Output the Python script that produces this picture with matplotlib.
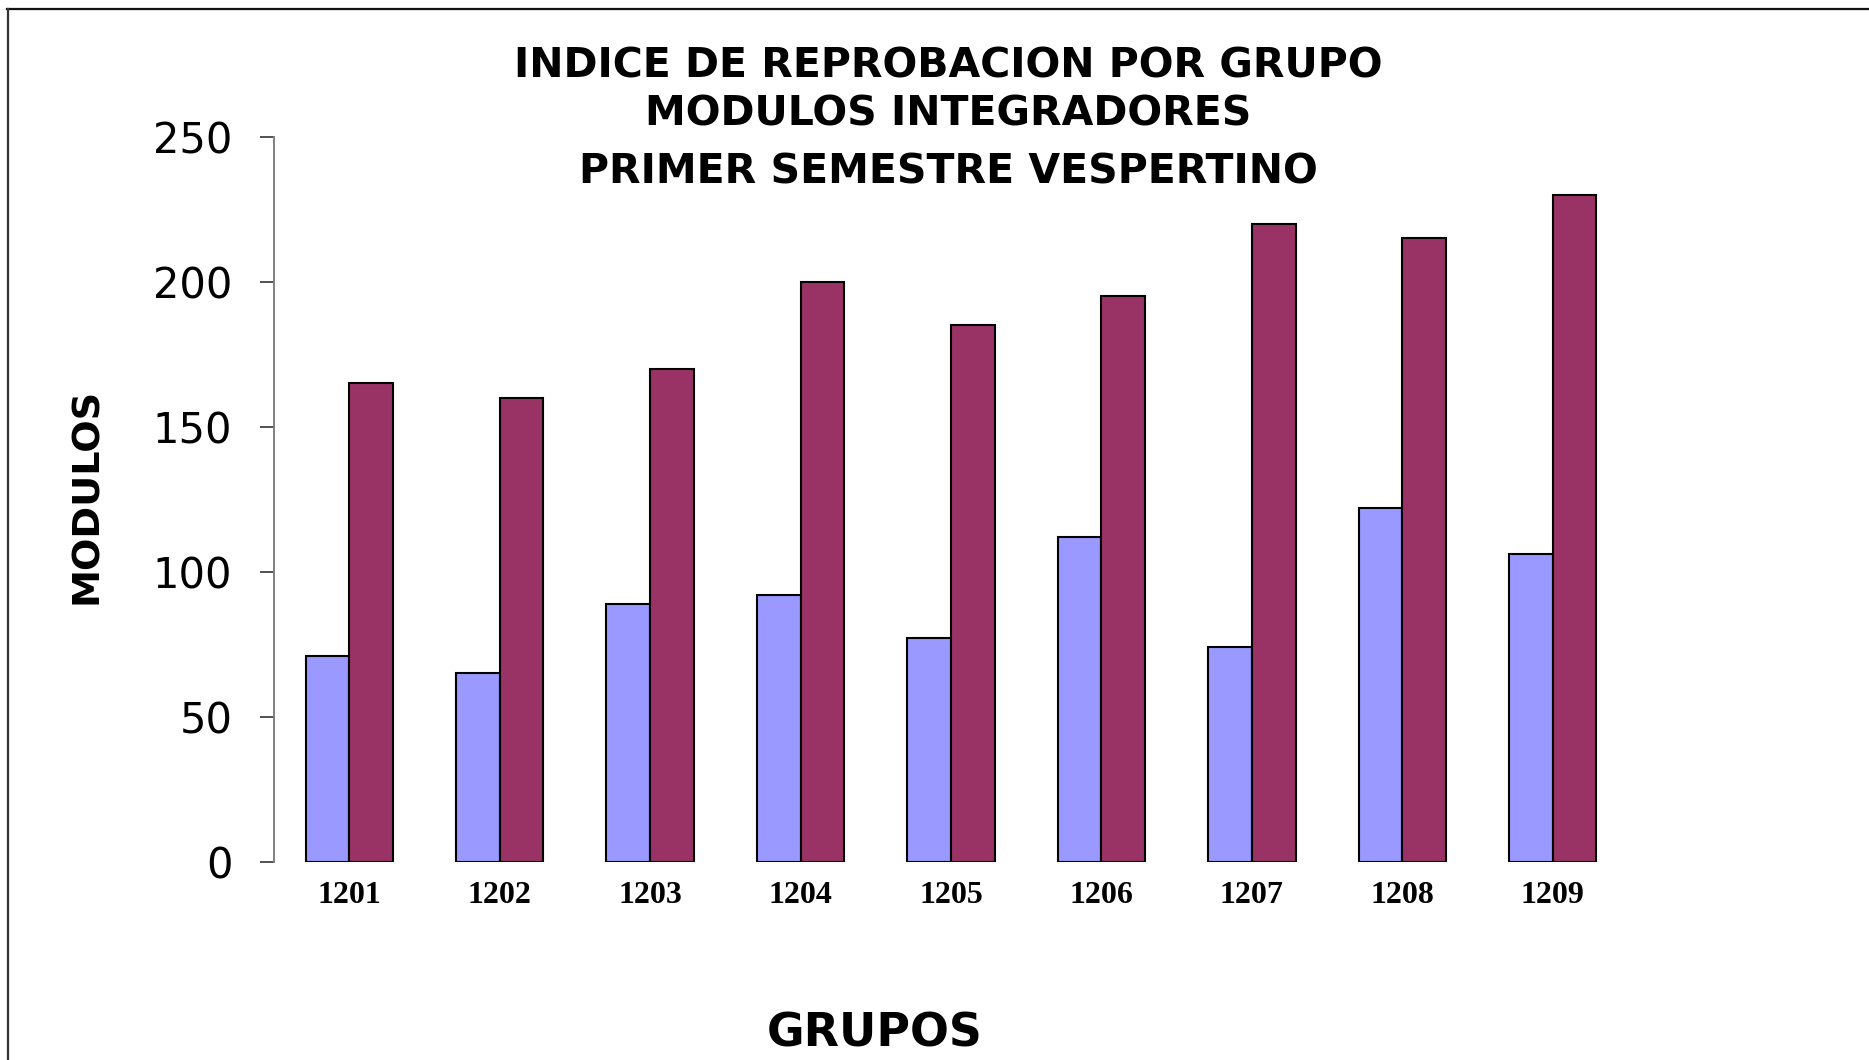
import matplotlib
matplotlib.use("Agg")
import matplotlib.pyplot as plt
from matplotlib.lines import Line2D
import numpy as np

grupos = ["1201", "1202", "1203", "1204", "1205", "1206", "1207", "1208", "1209"]
serie_azul = [71, 65, 89, 92, 77, 112, 74, 122, 106]
serie_vino = [165, 160, 170, 200, 185, 195, 220, 215, 230]
yticks = [0, 50, 100, 150, 200, 250]
titulos = ["INDICE DE REPROBACION POR GRUPO", "MODULOS INTEGRADORES", "PRIMER SEMESTRE VESPERTINO"]

W, H = 1869, 1060
fig = plt.figure(figsize=(W / 100, H / 100), dpi=100)
fig.patch.set_facecolor("white")

left, right, bottom, top = 274, 1628, 861.7, 137
ax = fig.add_axes([left / W, 1 - bottom / H, (right - left) / W, (bottom - top) / H])

x = np.arange(len(grupos))
bw = 0.29
ax.bar(x - bw / 2, serie_azul, width=bw, color="#9999FF", edgecolor="black", linewidth=1.5)
ax.bar(x + bw / 2, serie_vino, width=bw, color="#993366", edgecolor="black", linewidth=1.5)

ax.set_xlim(-0.5, len(grupos) - 0.5)
ax.set_ylim(0, 250)
ax.set_yticks(yticks)
ax.set_yticklabels([str(v) for v in yticks], fontsize=30, fontfamily="DejaVu Sans")
ax.tick_params(axis="y", direction="out", length=10, width=1.2, color="#333333", pad=20)
ax.set_xticks(x)
ax.set_xticklabels(grupos, fontsize=23, fontfamily="Liberation Serif", fontweight="bold")
ax.tick_params(axis="x", length=0, pad=14)

for s in ["top", "right", "bottom"]:
    ax.spines[s].set_visible(False)
ax.spines["left"].set_color("#808080")
ax.spines["left"].set_linewidth(1.4)

title_y = [66, 115, 172]
for t, yy in zip(titulos, title_y):
    fig.text(948 / W, 1 - yy / H, t, ha="center", va="center", fontsize=29.5,
             fontweight="bold", fontfamily="DejaVu Sans")

fig.text(87 / W, 1 - 496 / H, "MODULOS", rotation=90, ha="center", va="center",
         fontsize=27.5, fontweight="bold", fontfamily="DejaVu Sans")
fig.text(875 / W, 1 - 1034 / H, "GRUPOS", ha="center", va="center",
         fontsize=33, fontweight="bold", fontfamily="DejaVu Sans")

fig.add_artist(Line2D([7 / W, 1], [1 - 9 / H, 1 - 9 / H], transform=fig.transFigure,
                      color="#111111", linewidth=1.6))
fig.add_artist(Line2D([8 / W, 8 / W], [0, 1 - 9 / H], transform=fig.transFigure,
                      color="#333333", linewidth=1.6))

fig.savefig("out.png", dpi=100, facecolor="white")
